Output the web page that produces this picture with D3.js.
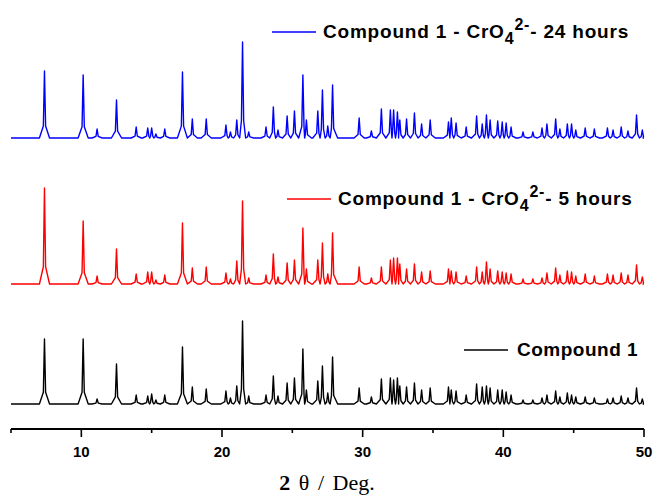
<!DOCTYPE html>
<html>
<head>
<meta charset="utf-8">
<script src="https://cdn.jsdelivr.net/npm/d3@7"></script>
<style>
  body { margin: 0; background: #fff; }
  text { font-family: "Liberation Sans", Arial, sans-serif; }
</style>
</head>
<body>
<div id="chart"></div>
<script>
// peak positions (2 theta), shared by the three patterns
var peakPos = [7.38, 10.13, 11.12, 12.5, 13.9, 14.72, 15.0, 15.3, 15.93, 17.19,
  17.89, 18.88, 20.28, 20.6, 21.05, 21.46, 21.9, 23.13, 23.65, 23.98,
  24.63, 25.15, 25.75, 26.0, 26.81, 27.14, 27.52, 27.86, 29.75, 30.62,
  31.33, 31.97, 32.2, 32.47, 32.64, 33.12, 33.68, 34.19, 34.8, 36.1,
  36.3, 36.64, 37.36, 38.1, 38.5, 38.8, 39.06, 39.6, 39.92, 40.2,
  40.55, 41.4, 42.1, 42.75, 43.1, 43.72, 44.02, 44.55, 44.85, 45.15,
  45.82, 46.47, 47.4, 47.8, 48.38, 48.86, 49.47, 49.88];

// intensities (a.u.) for each pattern
var compound1 = [65, 65, 5, 40, 9, 8, 10, 4, 9, 57,
  17, 15, 13, 6, 18, 83, 8, 9, 28, 8,
  21, 26, 55, 14, 23, 38, 11, 47, 16, 7,
  25, 26, 24, 26, 18, 17, 21, 14, 16, 17,
  14, 13, 9, 20, 17, 18, 16, 14, 14, 12,
  9, 4, 4, 6, 9, 13, 7, 11, 9, 7,
  7, 6, 5, 6, 8, 6, 16, 5];

var cro4_5h = [96, 63, 8, 35, 10, 12, 12, 4, 9, 61,
  16, 17, 11, 5, 23, 83, 6, 9, 30, 7,
  21, 24, 56, 15, 24, 41, 10, 51, 17, 6,
  17, 24, 26, 26, 20, 15, 20, 12, 13, 15,
  13, 12, 8, 17, 12, 22, 15, 13, 12, 11,
  10, 5, 5, 6, 11, 16, 9, 13, 12, 8,
  10, 8, 10, 9, 11, 9, 19, 7];

var cro4_24h = [67, 63, 9, 38, 11, 10, 10, 4, 9, 66,
  19, 19, 13, 6, 18, 96, 6, 11, 31, 8,
  22, 27, 63, 18, 27, 48, 12, 53, 20, 7,
  29, 28, 28, 26, 18, 19, 25, 14, 18, 16,
  20, 15, 11, 22, 14, 23, 18, 17, 16, 15,
  11, 6, 6, 10, 14, 19, 9, 14, 14, 8,
  10, 9, 10, 8, 11, 7, 23, 8];

var xTicks = [5, 10, 15, 20, 25, 30, 35, 40, 45, 50];
var xLabels = [10, 20, 30, 40, 50];

var width = 657, height = 497;

var svg = d3.select("#chart").append("svg")
  .attr("width", width)
  .attr("height", height);

var x = d3.scaleLinear().domain([5, 50]).range([11, 644]);
var y = d3.scaleLinear().domain([0, 420]).range([429, 9]);

// each peak drawn as a narrow spike: foot, shoulder, top, shoulder, foot
function peakPoints(heights, offset) {
  var halfBase = 0.36, shoulder = 0.08;
  var pts = [[5, offset]];
  peakPos.forEach(function(p, i) {
    var prev = i > 0 ? peakPos[i - 1] : 5;
    var next = i < peakPos.length - 1 ? peakPos[i + 1] : 50;
    var left = Math.max(p - halfBase, (prev + p) / 2);
    var right = Math.min(p + halfBase, (p + next) / 2);
    var h = heights[i];
    pts.push([left, offset]);
    pts.push([p - shoulder, offset + h * 0.18]);
    pts.push([p, offset + h]);
    pts.push([p + shoulder, offset + h * 0.18]);
    pts.push([right, offset]);
  });
  pts.push([50, offset]);
  return pts;
}

var line = d3.line()
  .x(function(d) { return x(d[0]); })
  .y(function(d) { return y(d[1]); });

var series = [
  {data: compound1, offset: 25, color: "#000000"},
  {data: cro4_5h, offset: 145, color: "#ff0000"},
  {data: cro4_24h, offset: 291, color: "#0000ff"}
];

series.forEach(function(s) {
  svg.append("path")
    .attr("d", line(peakPoints(s.data, s.offset)))
    .attr("fill", "none")
    .attr("stroke", s.color)
    .attr("stroke-width", 1.4)
    .attr("stroke-linejoin", "round");
});

// x axis
var axis = svg.append("g");
axis.append("line")
  .attr("x1", x(5)).attr("x2", x(50))
  .attr("y1", 429).attr("y2", 429)
  .attr("stroke", "#000").attr("stroke-width", 1.8);

axis.selectAll(".tick")
  .data(xTicks)
  .enter().append("line")
  .attr("x1", function(d) { return x(d); })
  .attr("x2", function(d) { return x(d); })
  .attr("y1", 429)
  .attr("y2", function(d) { return d % 10 === 0 ? 437 : 433; })
  .attr("stroke", "#000").attr("stroke-width", 1.6);

axis.selectAll(".lab")
  .data(xLabels)
  .enter().append("text")
  .attr("x", function(d) { return x(d); })
  .attr("y", 457)
  .attr("text-anchor", "middle")
  .attr("font-size", 15)
  .attr("font-weight", "bold")
  .text(function(d) { return d; });

var title = svg.append("text")
  .attr("x", 327).attr("y", 490)
  .attr("text-anchor", "middle")
  .attr("font-size", 22)
  .attr("word-spacing", 3)
  .style("font-family", "'Liberation Serif', 'DejaVu Serif', serif");
title.append("tspan").attr("font-weight", "bold").text("2");
title.append("tspan").text(" \u03b8 / Deg.");

// legends
var legends = [
  {x1: 272, x2: 316, y: 32, tx: 323, color: "#0000ff", tail: "- 24 hours", ion: true},
  {x1: 287, x2: 331, y: 199, tx: 338, color: "#ff0000", tail: "- 5 hours", ion: true},
  {x1: 464, x2: 508, y: 350, tx: 517, color: "#000000", ion: false}
];

legends.forEach(function(l) {
  svg.append("line")
    .attr("x1", l.x1).attr("x2", l.x2)
    .attr("y1", l.y).attr("y2", l.y)
    .attr("stroke", l.color).attr("stroke-width", 1.5);
  var t = svg.append("text")
    .attr("x", l.tx).attr("y", l.y + 6)
    .attr("font-size", 19)
    .attr("letter-spacing", l.ion ? 0.8 : 0.5)
    .attr("font-weight", "bold");
  if (l.ion) {
    t.append("tspan").text("Compound 1 - CrO");
    t.append("tspan").attr("font-size", 16).attr("dy", 6).text("4");
    t.append("tspan").attr("font-size", 16).attr("dy", -14).text("2-");
    t.append("tspan").attr("dy", 8).text(l.tail);
  } else {
    t.text("Compound 1");
  }
});
</script>
</body>
</html>
